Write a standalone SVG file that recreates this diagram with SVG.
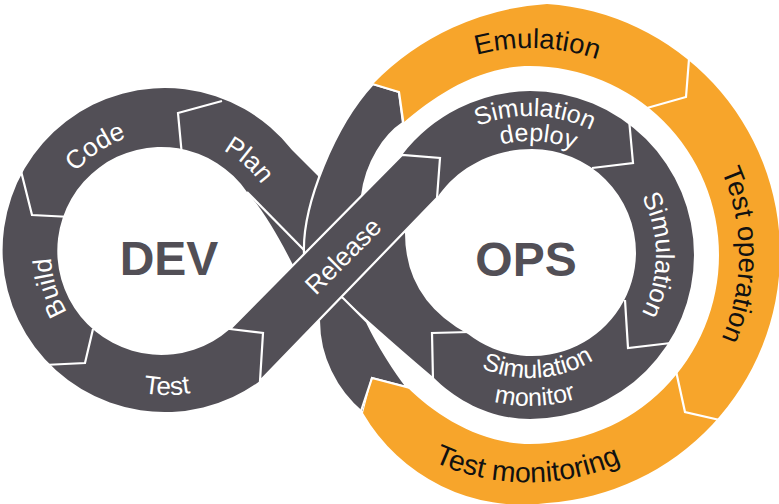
<svg xmlns="http://www.w3.org/2000/svg" width="779" height="504" viewBox="0 0 779 504">
<defs>
<style>
.g{fill:#524f56}
.o{fill:#f7a52b}
.sep{fill:none;stroke:#fff;stroke-width:2.2;stroke-linejoin:miter}
.gs{fill:#524f56;stroke:#fff;stroke-width:2.2;stroke-linejoin:miter}
.lw{font-family:"Liberation Sans",Arial,sans-serif;font-size:26px;fill:#fff}
.lw2{font-family:"Liberation Sans",Arial,sans-serif;font-size:25px;fill:#fff}
.lb{font-family:"Liberation Sans",Arial,sans-serif;font-size:27.5px;fill:#111}
.lb2{font-family:"Liberation Sans",Arial,sans-serif;font-size:28.5px;fill:#111}
.big{font-family:"Liberation Sans",Arial,sans-serif;font-size:48px;font-weight:bold;fill:#524f56}
</style>
<path id="p-code" d="M 45.3 261.5 A 122 122 0 0 1 220.5 143.3"/>
<path id="p-plan" d="M 129.7 142.1 A 117 117 0 0 1 281.7 276.1"/>
<path id="p-build" d="M 139.9 365.8 A 116 116 0 0 1 82.9 173.1"/>
<path id="p-test" d="M 44 324 A 142 142 0 0 0 290 324"/>
<path id="p-sd1" d="M 412.1 181.3 A 139 139 0 0 1 652.7 189.7"/>
<path id="p-sd2" d="M 435.5 191.3 A 114 114 0 0 1 632.5 205"/>
<path id="p-sim" d="M 593 145.9 A 126 126 0 0 1 593 364.1"/>
<path id="p-sm1" d="M 428 323.8 A 123 123 0 0 0 640.5 308.9"/>
<path id="p-sm2" d="M 402 335 A 151 151 0 0 0 663.3 325.9"/>
<path id="p-emu" d="M 354.5 145.3 A 207 207 0 0 1 712.8 157.8"/>
<path id="p-top" d="M 601.5 58.6 A 209 209 0 0 1 601.5 451.4"/>
<path id="p-tmo" d="M 331.5 370 A 229 229 0 0 0 724.5 372"/>
</defs>

<g id="bands">
  <path id="dev-ring" class="g" d="M 260,381 A 162 162 0 1 1 292,150 L 318,176 L 320,240 L 335,265 L 293,265 Q 267,214 247,192 A 104 104 0 1 0 230,329 L 263,333 Z"/>
  <path id="band-c" class="gs" d="M 373,84 L 399,92 L 403,123 C 385,135 366,162 362,196 L 380,196 L 318,258 L 304,254 C 302,205 335,125 373,84 Z"/>
  <path id="ops-ring" class="g" d="M 402,155 A 164 164 0 0 1 530,91 A 164 164 0 0 1 694,255 A 164 164 0 0 1 530,419 C 492,419 458,402 433,377 Q 395,345 343,298 L 330,290 L 395,225 L 405,233 Q 405,300 468,334 A 104 104 0 0 0 636,253 A 104 104 0 0 0 532,149 C 490,149 455,170 437,198 Z"/>
  <path id="band-d" class="gs" d="M 308,316 L 319,322 C 319,355 335,390 363,413 L 372,378 L 407,387 C 395,372 378,345 367,322 L 343,298 L 330,290 Z"/>
  <path id="outer-lane" class="o" d="M 373,84 A 266 266 0 0 1 547,4 A 250 250 0 0 1 780,255 A 250 250 0 0 1 547,503 A 184 184 0 0 1 363,413 L 372,378 L 407,387 C 435,415 480,444 530,444 A 189 189 0 0 0 719,255 A 189 189 0 0 0 530,66 C 480,66 435,95 403,123 L 399,92 Z"/>
</g>

<g id="connectors">
  <path class="sep" d="M 222,101 L 178,113 L 182,156"/>
  <path class="sep" d="M 21,171 L 32,215 L 71,217"/>
  <path class="sep" d="M 44,365 L 85,363 L 93,329"/>
  <path class="sep" d="M 247,192 L 304,250"/>
  <path class="sep" d="M 629,119 L 633,163 L 592,168"/>
  <path class="sep" d="M 671,343 L 628,348 L 625,300"/>
  <path class="sep" d="M 470,332 L 432,333 L 433,380"/>
  <path class="sep" d="M 689,59 L 686,97 L 647,108"/>
  <path class="sep" d="M 724,421 L 685,412 L 676,371"/>
  <path class="sep" d="M 369,83 L 399,92 L 404,127"/>
  <path class="sep" d="M 360,414 L 372,378 L 410,388"/>
</g>

<g id="release">
  <path class="gs" d="M 230,329 L 402,155 L 440,158 L 437,198 L 260,381 L 263,333 Z"/>
  <text class="lw" transform="translate(343,256) rotate(-45)" y="9" text-anchor="middle">Release</text>
</g>

<g id="code"><text class="lw"><textPath href="#p-code" startOffset="50%" text-anchor="middle">Code</textPath></text></g>
<g id="plan"><text class="lw"><textPath href="#p-plan" startOffset="50%" text-anchor="middle">Plan</textPath></text></g>
<g id="build"><text class="lw"><textPath href="#p-build" startOffset="50%" text-anchor="middle">Build</textPath></text></g>
<g id="test"><text class="lw"><textPath href="#p-test" startOffset="50%" text-anchor="middle">Test</textPath></text></g>
<g id="simulation-deploy">
  <text class="lw2"><textPath href="#p-sd1" startOffset="50%" text-anchor="middle">Simulation</textPath></text>
  <text class="lw2"><textPath href="#p-sd2" startOffset="50%" text-anchor="middle">deploy</textPath></text>
</g>
<g id="simulation"><text class="lw"><textPath href="#p-sim" startOffset="50%" text-anchor="middle">Simulation</textPath></text></g>
<g id="simulation-monitor">
  <text class="lw2"><textPath href="#p-sm1" startOffset="50%" text-anchor="middle">Simulation</textPath></text>
  <text class="lw2"><textPath href="#p-sm2" startOffset="50%" text-anchor="middle">monitor</textPath></text>
</g>
<g id="emulation"><text class="lb"><textPath href="#p-emu" startOffset="50%" text-anchor="middle">Emulation</textPath></text></g>
<g id="test-operation"><text class="lb"><textPath href="#p-top" startOffset="50%" text-anchor="middle">Test operation</textPath></text></g>
<g id="test-monitoring"><text class="lb2"><textPath href="#p-tmo" startOffset="50%" text-anchor="middle">Test monitoring</textPath></text></g>
<g id="dev"><text class="big" x="169" y="275" text-anchor="middle">DEV</text></g>
<g id="ops"><text class="big" x="526" y="276" text-anchor="middle">OPS</text></g>
</svg>
